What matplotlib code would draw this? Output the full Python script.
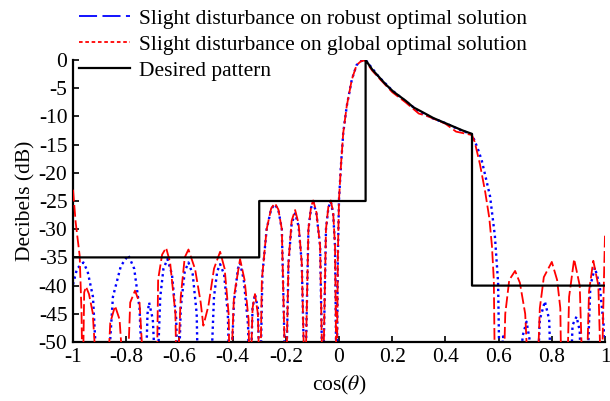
import matplotlib
matplotlib.use("Agg")
import matplotlib.pyplot as plt
from matplotlib.lines import Line2D

plt.rcParams['font.family'] = ['Liberation Serif', 'DejaVu Serif']
plt.rcParams['mathtext.fontset'] = 'stix'

# desired (mask) pattern
desired_u = [-1.0, -0.3, -0.3, 0.1, 0.1, 0.125, 0.154, 0.175, 0.204, 0.25, 0.28,
             0.32, 0.355, 0.39, 0.43, 0.465, 0.5, 0.5, 1.0]
desired_db = [-35, -35, -25, -25, 0, -1.7, -3.2, -4.3, -5.6, -7.2, -8.4,
              -9.4, -10.3, -11.0, -11.8, -12.5, -13.1, -40, -40]

# red dashed curve
red_u = [-1.0, -0.99, -0.975, -0.968, -0.964, -0.958, -0.951, -0.94, -0.926, -0.906,
         -0.874, -0.86, -0.842, -0.825, -0.805, -0.798, -0.785, -0.767, -0.75, -0.729,
         -0.686, -0.68, -0.665, -0.65, -0.635, -0.615, -0.61, -0.595, -0.58, -0.566,
         -0.541, -0.52, -0.51, -0.491, -0.47, -0.447, -0.43, -0.415, -0.41, -0.395,
         -0.372, -0.355, -0.34, -0.335, -0.325, -0.316, -0.305, -0.297, -0.29, -0.272,
         -0.255, -0.241, -0.228, -0.215, -0.2, -0.19, -0.178, -0.165, -0.152, -0.14,
         -0.128, -0.115, -0.105, -0.097, -0.085, -0.071, -0.061, -0.049, -0.04, -0.031,
         -0.022, -0.015, -0.009, -0.004, 0.0, 0.008, 0.016, 0.029, 0.048, 0.066,
         0.083, 0.095, 0.1, 0.125, 0.154, 0.2, 0.25, 0.3, 0.33, 0.355,
         0.4, 0.44, 0.47, 0.5, 0.51, 0.53, 0.55, 0.565, 0.575, 0.582,
         0.587, 0.617, 0.625, 0.64, 0.662, 0.68, 0.70, 0.715, 0.743, 0.755,
         0.77, 0.80, 0.82, 0.832, 0.837, 0.856, 0.865, 0.884, 0.905, 0.918,
         0.929, 0.94, 0.956, 0.975, 0.987, 0.993, 1.0]
red_db = [-23, -28.8, -34.7, -44.8, -60, -41.2, -40.2, -41.5, -44.8, -60,
          -60, -46.6, -43.6, -46, -60, -60, -43, -40.9, -43, -60,
          -60, -38.9, -34.5, -33.3, -35.9, -45, -60, -42, -35, -33.6,
          -37.1, -43, -47.1, -43.6, -37, -34.0, -37, -45, -60, -42,
          -35.3, -39, -46, -60, -44, -41.5, -45, -60, -38.9, -30,
          -26.3, -25.4, -26.5, -30, -60, -36, -28.5, -26.6, -29, -36,
          -60, -30, -26, -24.9, -27, -33, -60, -30, -26, -24.9,
          -27, -33, -60, -34, -24.7, -18.2, -12.9, -8.2, -3.5, -0.9,
          -0.2, -0.1, -0.2, -1.9, -3.4, -5.7, -7.5, -9.5, -9.9, -10.4,
          -11.3, -12.7, -13.0, -13.3, -14.5, -18.5, -23.5, -28, -33, -39,
          -60, -60, -45, -39, -37.4, -39.5, -45, -60, -60, -44,
          -38.5, -35.8, -39, -44, -60, -60, -42, -35.3, -40, -60,
          -60, -41, -35.6, -40, -60, -45, -31]

# blue dotted curve
blue_u = [-1.0, -0.985, -0.961, -0.945, -0.925, -0.905, -0.874, -0.85, -0.82, -0.792,
          -0.77, -0.75, -0.736, -0.729, -0.72, -0.714, -0.70, -0.686, -0.672, -0.66,
          -0.645, -0.628, -0.612, -0.605, -0.595, -0.58, -0.566, -0.55, -0.535, -0.529,
          -0.485, -0.47, -0.458, -0.447, -0.432, -0.418, -0.41, -0.395, -0.38, -0.372,
          -0.358, -0.342, -0.335, -0.325, -0.316, -0.305, -0.297, -0.288, -0.272, -0.255,
          -0.241, -0.228, -0.215, -0.2, -0.19, -0.178, -0.165, -0.152, -0.14, -0.128,
          -0.115, -0.105, -0.097, -0.085, -0.071, -0.061, -0.049, -0.04, -0.031, -0.022,
          -0.015, -0.009, -0.004, 0.0, 0.008, 0.016, 0.029, 0.048, 0.066, 0.083,
          0.1, 0.15, 0.2, 0.25, 0.3, 0.35, 0.4, 0.45, 0.5, 0.52,
          0.536, 0.55, 0.568, 0.586, 0.598, 0.605, 0.612, 0.617, 0.622, 0.68,
          0.69, 0.705, 0.718, 0.724, 0.743, 0.755, 0.774, 0.79, 0.80, 0.868,
          0.878, 0.893, 0.905, 0.912, 0.93, 0.945, 0.962, 0.98, 0.995, 1.0]
blue_db = [-39.8, -37, -35.9, -37.5, -42, -60, -60, -42, -36.5, -34.6,
           -37, -44, -60, -60, -45, -43, -46, -60, -42, -37,
           -35.3, -38, -46, -60, -44, -37.5, -35.9, -38, -45, -60,
           -60, -42, -37.5, -36.2, -38, -45, -60, -43, -37, -36,
           -39, -47, -60, -44, -41.5, -44, -60, -38, -30, -26.4,
           -25.6, -26.6, -30, -60, -36, -29, -27.2, -29.5, -36, -60,
           -30, -26.2, -25.2, -27.2, -33, -60, -30, -26.2, -25.1, -27.2,
           -33, -60, -34, -24.7, -18.2, -12.9, -8.2, -3.5, -0.9, -0.2,
           0.0, -3.0, -5.4, -7.3, -9.1, -10.3, -11.2, -12.3, -13.2, -15.5,
           -17.7, -20.5, -24.2, -31.2, -39.4, -60, -52, -49, -60, -60,
           -49, -46.4, -50, -60, -60, -46, -42.8, -46, -60, -60,
           -47, -45.5, -48, -60, -60, -40, -36.8, -40, -47, -50]

fig = plt.figure(figsize=(6.1, 4.01), dpi=100)
ax = fig.add_axes([0.1197, 0.1471, 0.8721, 0.7033])

ax.plot(blue_u, blue_db, color='blue', lw=1.7, linestyle=(0, (1, 1.5)), zorder=2)
ax.plot(red_u, red_db, color='red', lw=1.3, linestyle=(0, (6.5, 2)), zorder=3)
ax.plot(desired_u, desired_db, color='black', lw=1.6, zorder=4)

ax.set_xlim(-1, 1)
ax.set_ylim(-50, 0)
ax.set_xticks([-1, -0.8, -0.6, -0.4, -0.2, 0, 0.2, 0.4, 0.6, 0.8, 1])
ax.set_xticklabels(['-1', '-0.8', '-0.6', '-0.4', '-0.2', '0', '0.2', '0.4', '0.6', '0.8', '1'])
ax.set_yticks(range(-50, 1, 5))
ax.set_yticklabels([str(v) for v in range(-50, 1, 5)])
ax.tick_params(direction='in', length=4, width=1.2, labelsize=15.5, pad=4)
for s in ['top', 'right']:
    ax.spines[s].set_visible(False)
for s in ['left', 'bottom']:
    ax.spines[s].set_linewidth(1.6)

ax.set_xlabel(r'cos($\theta$)', fontsize=15.5, labelpad=5)
ax.set_ylabel('Decibels (dB)', fontsize=15.5, labelpad=2)

handles = [
    Line2D([], [], color='blue', lw=1.3, linestyle=(0, (10, 3))),
    Line2D([], [], color='red', lw=1.3, linestyle=(0, (2, 1.5))),
    Line2D([], [], color='black', lw=1.6),
]
labels = ['Slight disturbance on robust optimal solution',
          'Slight disturbance on global optimal solution',
          'Desired pattern']
fig.legend(handles, labels, loc='upper left', bbox_to_anchor=(0.115, 1.0),
           frameon=False, fontsize=15.5, handlelength=2.4, handletextpad=0.4,
           labelspacing=0.28, borderaxespad=0.0)

fig.savefig('out.png', dpi=100)
